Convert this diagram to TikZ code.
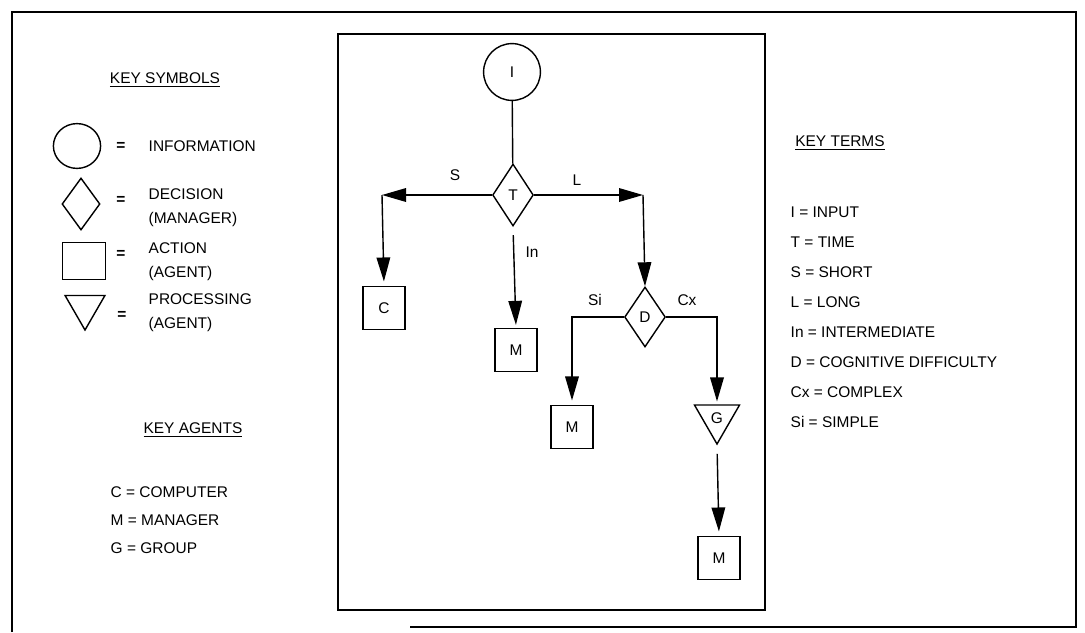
\documentclass[tikz,border=0pt]{standalone}
\usepackage{fontspec}
\setmainfont{Liberation Sans}
\usetikzlibrary{arrows.meta,shapes.geometric}

\begin{document}
\begin{tikzpicture}[x=0.025cm, y=-0.025cm, line width=1pt,
	every node/.style={font=\fontsize{11}{17}\selectfont},
	>={Triangle[length=0.6cm,width=0.34cm]},
	actbox/.style={draw, minimum width=1.05cm, minimum height=1.08cm, inner sep=0pt},
	decide/.style={draw, diamond, minimum width=1.02cm, minimum height=1.55cm, inner sep=0pt},
	proc/.style={draw, regular polygon, regular polygon sides=3, shape border rotate=180, minimum size=1.3cm, inner sep=0pt},
	info/.style={draw, circle, minimum size=1.42cm, inner sep=0pt},
	eqs/.style={font=\fontsize{11}{17}\selectfont\bfseries},
	keylist/.style={anchor=north west, align=left, inner sep=0pt}]
	\useasboundingbox (0,0) rectangle (1085,632);
	\draw (12,632) |- (1076,12) |- (410,627);
	\draw (338,34) rectangle (765,610);

	\node (keySym) at (165,80) {\underline{KEY SYMBOLS}};
	\node[draw, ellipse, minimum width=1.18cm, minimum height=1.12cm] (symInfo) at (77,146) {};
	\node[eqs] (eqInfo) at (121,146) {=};
	\node[anchor=west, inner sep=0pt] (txtInfo) at (148,146) {INFORMATION};
	\node[draw, diamond, minimum width=0.95cm, minimum height=1.3cm, inner sep=0pt] (symDec) at (81,204) {};
	\node[eqs] (eqDec) at (121,200) {=};
	\node[anchor=west, align=left, inner sep=0pt] (txtDec) at (148,208) {DECISION\\(MANAGER)};
	\node[draw, minimum width=1.08cm, minimum height=0.93cm, inner sep=0pt] (symAct) at (84,261) {};
	\node[eqs] (eqAct) at (121,254) {=};
	\node[anchor=west, align=left, inner sep=0pt] (txtAct) at (148,262) {ACTION\\(AGENT)};
	\node[draw, regular polygon, regular polygon sides=3, shape border rotate=180, minimum size=1.15cm, inner sep=0pt] (symProc) at (85,307) {};
	\node[eqs] (eqProc) at (122,315) {=};
	\node[anchor=west, align=left, inner sep=0pt] (txtProc) at (148,313) {PROCESSING\\(AGENT)};

	\node (keyAg) at (193,430) {\underline{KEY AGENTS}};
	\node[keylist, font=\fontsize{11}{20}\selectfont] (agents) at (110,486) {C = COMPUTER\\M = MANAGER\\G = GROUP};

	\node (keyTerms) at (840,143) {\underline{KEY TERMS}};
	\node[keylist, font=\fontsize{11}{21.3}\selectfont] (terms) at (790,206) {I = INPUT\\T = TIME\\S = SHORT\\L = LONG\\In = INTERMEDIATE\\D = COGNITIVE DIFFICULTY\\Cx = COMPLEX\\Si = SIMPLE};

	\node[info] (nI) at (512,72) {I};
	\node[decide] (nT) at (513,195) {T};
	\node[actbox] (nC) at (384,308) {C};
	\node[actbox] (nM1) at (516,350) {M};
	\node[decide, minimum height=1.5cm] (nD) at (645,317) {D};
	\node[actbox] (nM2) at (572,427) {M};
	\node[proc] (nG) at (717,418) {G};
	\node[actbox] (nM3) at (719,558) {M};
	\coordinate (sTurn) at (382,195);
	\coordinate (lTurn) at (643,195);

	\draw (nI) -- (nT);
	\draw[->] (nT.west) -- (sTurn);
	\draw[->, shorten >=3pt] (sTurn) -- (nC.north);
	\draw[->] (nT.east) -- (lTurn);
	\draw[->] (lTurn) -- (nD.north);
	\draw[->, shorten <=6pt, shorten >=2pt] (nT.south) -- (nM1.north);
	\draw[->, shorten >=3pt] (nD.west) -| (nM2.north);
	\draw[->, shorten >=2pt] (nD.east) -| (nG.north);
	\draw[->, shorten <=6pt, shorten >=3pt] (nG.south) -- (nM3.north);

	\node (labS) at (455,175) {S};
	\node (labL) at (577,180) {L};
	\node (labIn) at (532,252) {In};
	\node (labSi) at (595,300) {Si};
	\node (labCx) at (687,300) {Cx};
\end{tikzpicture}
\end{document}
